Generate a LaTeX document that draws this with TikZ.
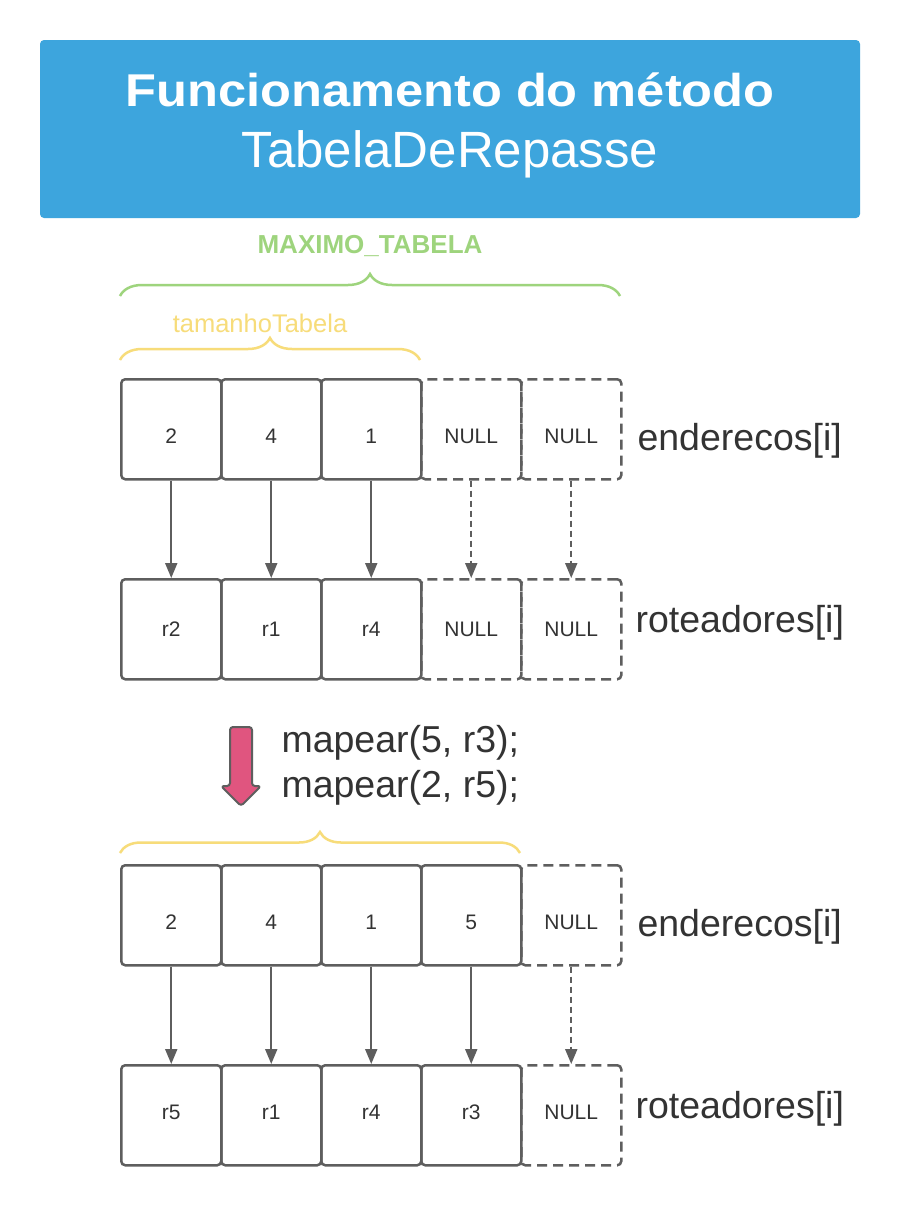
\documentclass[tikz,border=0pt]{standalone}
\usepackage{fontspec}
\setmainfont{Liberation Sans}
\newfontfamily\widesans{Liberation Sans}[FakeStretch=1.1]
\usetikzlibrary{decorations.pathreplacing,arrows.meta}
\definecolor{titleblue}{HTML}{3DA5DD}
\definecolor{boxgray}{HTML}{5E5E5E}
\definecolor{txt}{HTML}{333333}
\definecolor{mygreen}{HTML}{9ED47D}
\definecolor{myyellow}{HTML}{F7DC7A}
\definecolor{mypink}{HTML}{E0557F}
\begin{document}
\begin{tikzpicture}[x=1pt,y=-1pt,
  cell/.style={draw=boxgray, line width=2.5pt, rounded corners=4pt, minimum width=100pt, minimum height=100pt, inner sep=0pt, font=\fontsize{21}{25}\selectfont, text=txt, anchor=north west, text height=15pt, text depth=0pt},
  low/.style={text height=29pt},
  high/.style={text depth=6pt},
  nullcell/.style={cell, dash pattern=on 10pt off 6pt},
  conn/.style={draw=boxgray, line width=2pt, -{Triangle[length=15pt,width=12pt]}},
  nullconn/.style={conn, dash pattern=on 6pt off 4pt},
  rowlabel/.style={anchor=west, font=\fontsize{37.5}{42}\selectfont, text=txt},
  codelabel/.style={anchor=west, font=\fontsize{37.5}{42}\selectfont, text=txt},
  bracestyle/.style={decorate, decoration={brace, amplitude=#1}, line width=2.5pt},
  ]
\useasboundingbox (0,0) rectangle (900,1205);
\fill[white] (0,0) rectangle (900,1205);
% title
\fill[titleblue, rounded corners=4pt] (40,40) rectangle (860,218);
\node[text=white, font=\widesans\fontsize{46}{52}\selectfont\bfseries] (t1) at (450,90) {Funcionamento do método};
\node[text=white, font=\fontsize{51}{56}\selectfont] (t2) at (450,154) {TabelaDeRepasse};
% braces
\draw[bracestyle=22pt, draw=mygreen] (120,296) -- (620,296);
\node[text=mygreen, font=\fontsize{26}{30}\selectfont\bfseries] (maxt) at (370,246) {MAXIMO\_TABELA};
\draw[bracestyle=22pt, draw=myyellow] (120,360) -- (420,360);
\node[text=myyellow, font=\fontsize{25.5}{30}\selectfont] (tamt) at (260,323) {tamanhoTabela};
% first table
\node[cell,low] (a1) at (120,378) {2};
\node[cell,low] (a2) at (220,378) {4};
\node[cell,low] (a3) at (320,378) {1};
\node[nullcell,low] (a4) at (420,378) {NULL};
\node[nullcell,low] (a5) at (520,378) {NULL};
\node[cell] (b1) at (120,578) {r2};
\node[cell] (b2) at (220,578) {r1};
\node[cell] (b3) at (320,578) {r4};
\node[nullcell] (b4) at (420,578) {NULL};
\node[nullcell] (b5) at (520,578) {NULL};
\draw[conn] (a1) -- (b1);
\draw[conn] (a2) -- (b2);
\draw[conn] (a3) -- (b3);
\draw[nullconn] (a4) -- (b4);
\draw[nullconn] (a5) -- (b5);
\node[rowlabel] (la) at (634,441) {enderecos[i]};
\node[rowlabel] (lb) at (632,623) {roteadores[i]};
% pink arrow
\draw[fill=mypink, draw=boxgray, line width=2pt, rounded corners=3pt, line join=round]
  (230,727) -- (252,727) -- (252,786) -- (261,786) -- (241,806) -- (221,786) -- (230,786) -- cycle;
\node[codelabel] (m1) at (278,743) {mapear(5, r3);};
\node[codelabel] (m2) at (278,788) {mapear(2, r5);};
% second brace
\draw[bracestyle=21pt, draw=myyellow] (120,853) -- (520,853);
% second table
\node[cell,low] (c1) at (120,864) {2};
\node[cell,low] (c2) at (220,864) {4};
\node[cell,low] (c3) at (320,864) {1};
\node[cell,low] (c4) at (420,864) {5};
\node[nullcell,low] (c5) at (520,864) {NULL};
\node[cell,high] (d1) at (120,1064) {r5};
\node[cell,high] (d2) at (220,1064) {r1};
\node[cell,high] (d3) at (320,1064) {r4};
\node[cell,high] (d4) at (420,1064) {r3};
\node[nullcell,high] (d5) at (520,1064) {NULL};
\draw[conn] (c1) -- (d1);
\draw[conn] (c2) -- (d2);
\draw[conn] (c3) -- (d3);
\draw[conn] (c4) -- (d4);
\draw[nullconn] (c5) -- (d5);
\node[rowlabel] (lc) at (634,927) {enderecos[i]};
\node[rowlabel] (ld) at (632,1109) {roteadores[i]};
\end{tikzpicture}
\end{document}
